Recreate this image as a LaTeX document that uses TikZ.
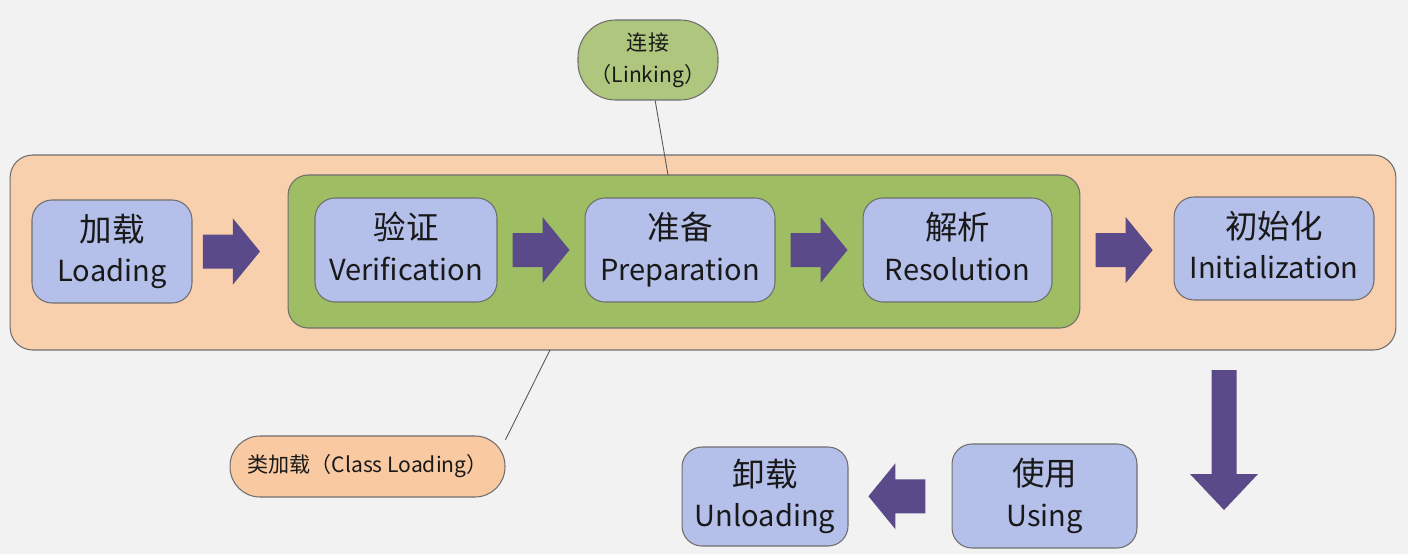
\documentclass[tikz,border=0pt]{standalone}
\usepackage{fontspec}
\setmainfont{Noto Sans CJK SC}
\usepackage{tikz}
\usetikzlibrary{calc}
\definecolor{bgc}{HTML}{F2F2F2}
\definecolor{orgc}{HTML}{F9D0AE}
\definecolor{grnc}{HTML}{9FBE63}
\definecolor{bluec}{HTML}{B4BFEA}
\definecolor{lgrnc}{HTML}{AFC67E}
\definecolor{lorgc}{HTML}{F9C9A2}
\definecolor{arrc}{HTML}{5A4A8A}
\definecolor{edgec}{HTML}{6E6E6E}
\tikzset{
  phase/.style={draw=edgec, line width=0.6pt, rounded corners=4mm, fill=bluec,
                align=center, text=black!90, inner sep=0pt,
                font=\fontsize{16.5}{23}\selectfont},
  outerbox/.style={draw=edgec, line width=0.6pt, rounded corners=4.5mm, fill=orgc,
                   inner sep=0pt},
  linkbox/.style={draw=edgec, line width=0.6pt, rounded corners=4mm, fill=grnc,
                  inner sep=0pt},
  tagbox/.style={draw=edgec, line width=0.6pt, align=center, inner sep=0pt,
                 text=black!90, font=\fontsize{12}{18}\selectfont},
  tagln/.style={draw=edgec!80!black, line width=0.5pt},
  pics/blockarr/.style n args={4}{code={
    \fill[arrc] (-#1/2,-#2) -- (#1/2-#4,-#2) -- (#1/2-#4,-#3) -- (#1/2,0)
      -- (#1/2-#4,#3) -- (#1/2-#4,#2) -- (-#1/2,#2) -- cycle;
  }},
}
\newcommand{\zh}[1]{{\fontsize{18.5}{23}\selectfont #1}}

\begin{document}
\begin{tikzpicture}[x=0.02cm, y=-0.02cm]
    \fill[bgc] (0,0) rectangle (1408,554);
    \useasboundingbox (0,0) rectangle (1408,554);

    \node[outerbox, minimum width=27.72cm, minimum height=3.9cm] (clsload) at (703,252.5) {};
    \node[linkbox, minimum width=15.84cm, minimum height=3.06cm] (linking) at (684,251.5) {};

    \node[phase, minimum width=3.2cm, minimum height=2.06cm] (load) at (112,251.5) {\zh{加载}\\Loading\vphantom{gp}};
    \node[phase, minimum width=3.64cm, minimum height=2.08cm] (verif) at (406,250) {\zh{验证}\\Verification\vphantom{gp}};
    \node[phase, minimum width=3.8cm, minimum height=2.08cm] (prep) at (680,250) {\zh{准备}\\Preparation\vphantom{gp}};
    \node[phase, minimum width=3.78cm, minimum height=2.08cm] (resol) at (957.5,250) {\zh{解析}\\Resolution\vphantom{gp}};
    \node[phase, minimum width=4.0cm, minimum height=2.06cm] (init) at (1274,248.5) {\zh{初始化}\\Initialization\vphantom{gp}};
    \node[phase, minimum width=3.7cm, minimum height=2.08cm] (using) at (1044.5,496) {\zh{使用}\\Using\vphantom{gp}};
    \node[phase, minimum width=3.32cm, minimum height=1.98cm] (unload) at (765,496.5) {\zh{卸载}\\Unloading\vphantom{gp}};

    \pic at ($(load.east)!0.41!(linking.west)$) {blockarr={57}{17}{33}{27}};
    \pic at ($(verif.east)!0.5!(prep.west)$) {blockarr={57}{17}{33}{27}};
    \pic at ($(prep.east)!0.5!(resol.west)$) {blockarr={57}{17}{33}{27}};
    \pic at ($(linking.east)!0.47!(init.west)$) {blockarr={57}{17}{33}{27}};
    \pic[rotate=-90] at (1224,440) {blockarr={140}{12.5}{34}{36}};
    \pic[rotate=180] at ($(using.west)!0.53!(unload.east)$) {blockarr={57}{17}{33}{27}};

    \node[tagbox, fill=lgrnc, rounded corners=7.5mm, minimum width=2.8cm, minimum height=1.6cm] (linktag) at (648,60) {连接\\（Linking）};
    \node[tagbox, fill=lorgc, rounded corners=6mm, minimum width=5.5cm, minimum height=1.22cm] (clstag) at (367.5,466.5) {类加载（Class Loading）};

    \coordinate (linkpt) at (668,175);
    \coordinate (clspt) at (550,350);
    \draw[tagln] (linktag.-80) -- (linkpt);
    \draw[tagln] (clstag.11) -- (clspt);
  \end{tikzpicture}
\end{document}
